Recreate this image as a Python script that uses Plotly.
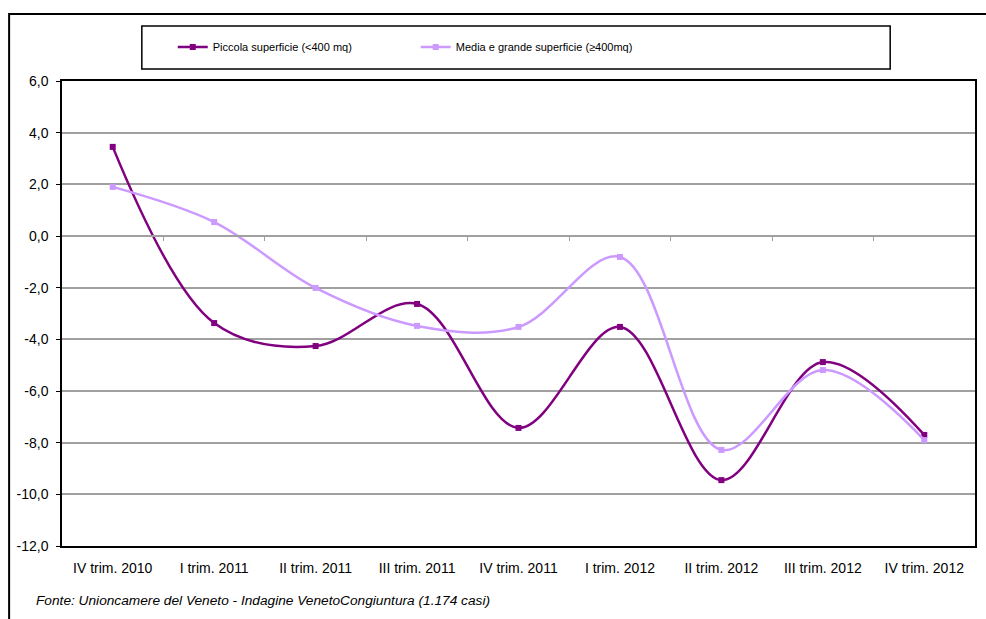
import plotly.graph_objects as go

categories = ["IV trim. 2010", "I trim. 2011", "II trim. 2011", "III trim. 2011",
              "IV trim. 2011", "I trim. 2012", "II trim. 2012", "III trim. 2012", "IV trim. 2012"]
piccola = [3.45, -3.37, -4.26, -2.63, -7.43, -3.52, -9.45, -4.88, -7.70]
media = [1.90, 0.54, -2.01, -3.48, -3.52, -0.81, -8.28, -5.19, -7.90]
y_ticks = [6, 4, 2, 0, -2, -4, -6, -8, -10, -12]
y_tick_labels = ["6,0", "4,0", "2,0", "0,0", "-2,0", "-4,0", "-6,0", "-8,0", "-10,0", "-12,0"]

FONT = "Liberation Sans, sans-serif"
W, H = 986, 619
ML, MR, MT, MB = 62, 9, 81, 73
PW, PH = W - ML - MR, H - MT - MB

def px2x(p):
    return (p - ML) / PW

def px2y(p):
    return 1 - (p - MT) / PH

fig = go.Figure()
fig.add_trace(go.Scatter(
    x=categories, y=piccola, name="Piccola superficie (<400 mq)",
    mode="lines+markers", line=dict(color="#800080", width=2.5, shape="spline", smoothing=1),
    marker=dict(symbol="square", size=6, color="#800080")))
fig.add_trace(go.Scatter(
    x=categories, y=media, name="Media e grande superficie (≥400mq)",
    mode="lines+markers", line=dict(color="#CC99FF", width=2.5, shape="spline", smoothing=1),
    marker=dict(symbol="square", size=6, color="#CC99FF")))
# helper axis for the zero-line with category boundary ticks
fig.add_trace(go.Scatter(x=[None], y=[None], xaxis="x2", showlegend=False, hoverinfo="skip"))

fig.update_layout(
    width=W, height=H,
    margin=dict(l=ML, r=MR, t=MT, b=MB),
    paper_bgcolor="white", plot_bgcolor="white",
    font=dict(family=FONT, size=14, color="black"),
    showlegend=True,
    legend=dict(orientation="h", x=px2x(173), y=px2y(47), xanchor="left", yanchor="middle",
                entrywidth=198, entrywidthmode="pixels", font=dict(family=FONT, size=11),
                bgcolor="rgba(0,0,0,0)", itemwidth=30),
    xaxis=dict(type="category", range=[-0.5, 8.5], showgrid=False, showline=True,
               linecolor="black", linewidth=1.5, mirror=True, ticks="", tickfont=dict(size=14),
               zeroline=False, ticklabelstandoff=8),
    xaxis2=dict(overlaying="x", anchor="free", position=(0 - (-12)) / 18, range=[-0.5, 8.5],
                tickvals=[0.5, 1.5, 2.5, 3.5, 4.5, 5.5, 6.5, 7.5], showticklabels=False,
                ticks="outside", ticklen=4, tickcolor="#A0A0A0", showline=True,
                linecolor="#A0A0A0", linewidth=1.5, showgrid=False, zeroline=False),
    yaxis=dict(range=[-12, 6], tickvals=y_ticks, ticktext=y_tick_labels, showgrid=True,
               gridcolor="#A0A0A0", gridwidth=1.5, showline=True, linecolor="black",
               linewidth=1.5, mirror=True, ticks="outside", ticklen=4, tickcolor="black",
               zeroline=False, tickfont=dict(size=14), ticklabelstandoff=5),
    shapes=[
        dict(type="rect", xref="paper", yref="paper", x0=px2x(142), x1=px2x(892),
             y0=px2y(69), y1=px2y(26), line=dict(color="black", width=1.5)),
        dict(type="rect", xref="paper", yref="paper", x0=px2x(9), x1=px2x(1000),
             y0=px2y(640), y1=px2y(14), line=dict(color="black", width=2)),
    ],
    annotations=[
        dict(text="<i>Fonte: Unioncamere del Veneto - Indagine VenetoCongiuntura (1.174 casi)</i>",
             xref="paper", yref="paper", x=px2x(34), y=px2y(600), xanchor="left", yanchor="middle",
             showarrow=False, font=dict(family=FONT, size=13.7)),
    ],
)

fig.write_html("out.html", config={"displayModeBar": False},
               post_script="document.body.style.margin='0px';")
